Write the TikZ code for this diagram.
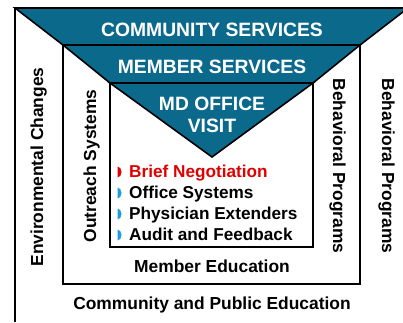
\documentclass[tikz,border=0pt]{standalone}
\usepackage{fontspec}
\setmainfont{Liberation Sans}
\definecolor{funnel}{HTML}{0B6A8C}
\definecolor{bulletblue}{HTML}{1B9ED8}
\definecolor{keyred}{HTML}{E00000}
\tikzset{
  frame/.style={line width=2pt, draw=black},
  band/.style={fill=funnel, draw=black, line width=1.6pt, line join=miter},
  bandtext/.style={text=white, font=\fontsize{19.3}{22}\selectfont\bfseries, anchor=base, inner sep=0pt},
  sidetext/.style={font=\fontsize{17.4}{20}\selectfont\bfseries, anchor=base, inner sep=0pt},
  itemtext/.style={font=\fontsize{17.2}{20}\selectfont\bfseries, anchor=base west, inner sep=0pt}
}
\begin{document}
\begin{tikzpicture}[x=1pt,y=-1pt]
  \useasboundingbox (0,0) rectangle (403,322);

  % Corners of the stepped funnel
  \coordinate (A1) at (15,8);   \coordinate (B1) at (408,8);
  \coordinate (A2) at (63,45);  \coordinate (B2) at (360,45);
  \coordinate (A3) at (110,83); \coordinate (B3) at (313,83);
  \coordinate (Tip) at (212,157);

  % Nested frames
  \draw[frame] (15,322) -- (A1);
  \draw[frame] (A2) rectangle (360,284);
  \draw[frame] (A3) rectangle (313,247);

  % Funnel bands
  \draw[band] (A1) -- (B1) -- (B2) -- (A2) -- cycle;
  \draw[band] (A2) -- (B2) -- (B3) -- (A3) -- cycle;
  \draw[band] (A3) -- (B3) -- (Tip) -- cycle;

  \node[bandtext] (community) at (212,36) {COMMUNITY SERVICES};
  \node[bandtext] (member) at (212,73) {MEMBER SERVICES};
  \node[bandtext] (office) at (212,110) {MD OFFICE};
  \node[bandtext] (visit) at (212,132) {VISIT};

  % Labels along the frames
  \node[sidetext, rotate=90] (environ) at (43,167) {Environmental Changes};
  \node[sidetext, rotate=90] (outreach) at (96,166) {Outreach Systems};
  \node[sidetext, rotate=-90] (behavin) at (333,166) {Behavioral Programs};
  \node[sidetext, rotate=-90] (behavout) at (382,166) {Behavioral Programs};
  \node[sidetext] (memberedu) at (212,272) {Member Education};
  \node[sidetext] (publicedu) at (212,309) {Community and Public Education};

  % Office visit checklist
  \foreach \txt/\tcol/\bcol [count=\i] in {Brief Negotiation/keyred/keyred,
      Office Systems/black/bulletblue,
      Physician Extenders/black/bulletblue,
      Audit and Feedback/black/bulletblue} {
    \node[itemtext, text=\tcol] (item\i) at (129,156+21*\i) {\txt};
    \fill[\bcol] ([xshift=-11.5pt,yshift=10.5pt]item\i.base west)
      arc[start angle=90, end angle=-90, x radius=4pt, y radius=5.5pt] -- cycle;
  }
\end{tikzpicture}
\end{document}
